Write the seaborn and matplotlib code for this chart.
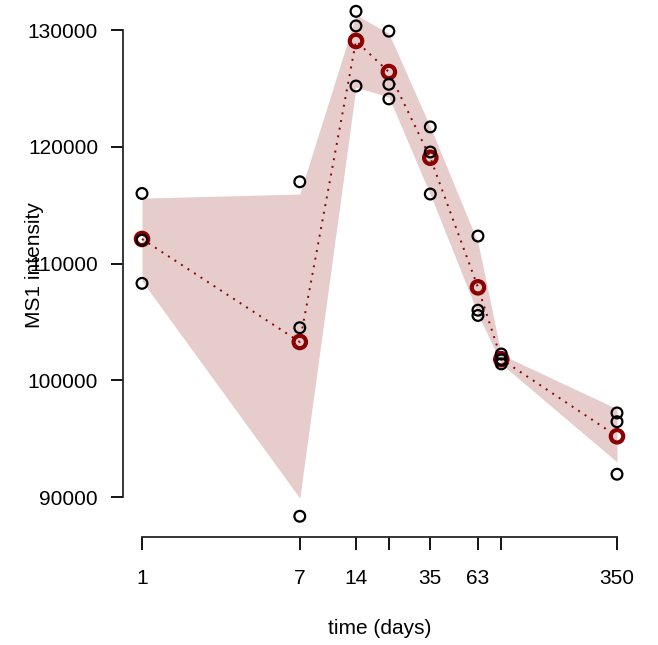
import numpy as np
import pandas as pd
import matplotlib
matplotlib.use("Agg")
import matplotlib.pyplot as plt
import seaborn as sns

# datos
dias = [1, 7, 14, 21, 35, 63, 84, 350]
media = [112100, 103280, 129060, 126400, 119060, 107960, 101800, 95200]
banda_inf = [108500, 89900, 125100, 124260, 115900, 105700, 101400, 93000]
banda_sup = [115600, 115950, 131300, 129700, 121700, 111800, 102200, 97550]
rep_1 = [116000, 117000, 131600, 129900, 121700, 112350, 102250, 97200]
rep_2 = [112000, 104500, 130350, 125350, 119550, 106000, 101750, 96450]
rep_3 = [108300, 88350, 125200, 124100, 115950, 105550, 101400, 91950]
etiquetas_x = ["1", "7", "14", "", "35", "63", "", "350"]
ticks_y = [90000, 100000, 110000, 120000, 130000]

df_media = pd.DataFrame({"dia": dias, "media": media})
df_rep = pd.DataFrame({
    "dia": dias * 3,
    "valor": rep_1 + rep_2 + rep_3,
})

sns.set_style("ticks")
plt.rcParams["font.family"] = ["Liberation Sans", "DejaVu Sans"]
plt.rcParams["text.color"] = "black"
plt.rcParams["axes.labelcolor"] = "black"

fig = plt.figure(figsize=(6.58, 6.45), dpi=100)
ax = fig.add_axes([123 / 658, 108 / 645, 513 / 658, 537 / 645])

rojo = "#8B0000"

# banda sombreada
ax.fill_between(dias, banda_inf, banda_sup, color=rojo, alpha=0.2, linewidth=0)

# linea punteada de la media
sns.lineplot(data=df_media, x="dia", y="media", ax=ax, color=rojo,
             linestyle=(0, (1, 3)), linewidth=1.4)

# puntos de la media
sns.scatterplot(data=df_media, x="dia", y="media", ax=ax, s=80,
                facecolor="none", edgecolor=rojo, linewidth=3, zorder=3)

# replicas
sns.scatterplot(data=df_rep, x="dia", y="valor", ax=ax, s=60,
                facecolor="none", edgecolor="black", linewidth=1.6, zorder=4)

ax.set_xscale("log")
lo = np.log10(1) - 0.04 * np.log10(350)
hi = np.log10(350) + 0.04 * np.log10(350)
ax.set_xlim(10 ** lo, 10 ** hi)
ax.set_ylim(86574, 132570)

ax.set_xticks(dias)
ax.set_xticklabels(etiquetas_x)
ax.xaxis.set_minor_locator(matplotlib.ticker.NullLocator())
ax.set_yticks(ticks_y)
ax.set_yticklabels([str(v) for v in ticks_y])

for lado in ["top", "right"]:
    ax.spines[lado].set_visible(False)
ax.spines["left"].set_bounds(90000, 130000)
ax.spines["bottom"].set_bounds(1, 350)
ax.spines["left"].set_linewidth(1.3)
ax.spines["bottom"].set_linewidth(1.3)

ax.tick_params(axis="both", direction="out", length=9, width=1.3,
               labelsize=15, color="black", labelcolor="black")
ax.tick_params(axis="y", pad=9)
ax.tick_params(axis="x", pad=14)

ax.set_xlabel("time (days)", fontsize=15, labelpad=22, color="black")
ax.set_ylabel("")
fig.text(35 / 658, 1 - 265 / 645, "MS1 intensity", rotation=90,
         ha="center", va="center", fontsize=15, color="black")

fig.savefig("out.png", dpi=100)
